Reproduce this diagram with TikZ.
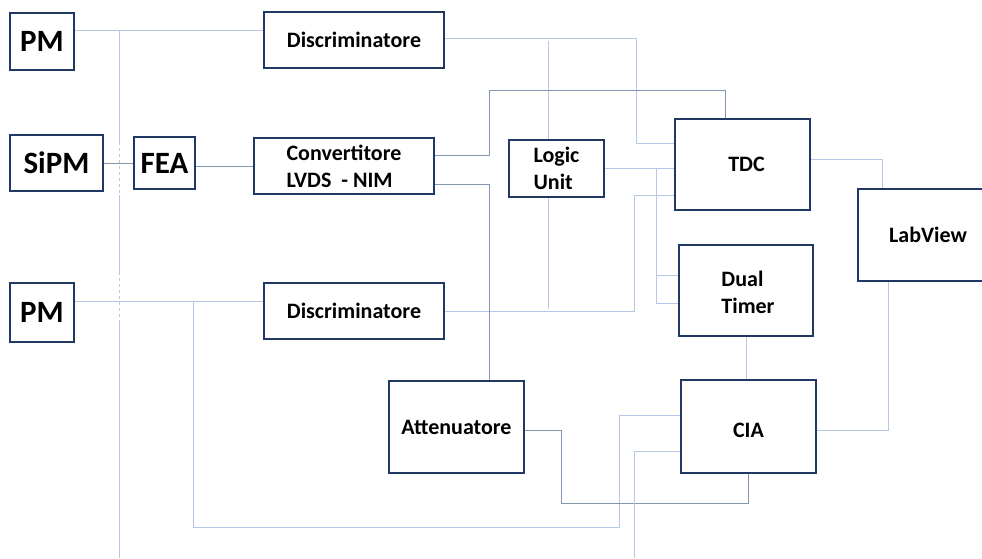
\documentclass[tikz,border=0pt]{standalone}
\usepackage{fontspec}
\setmainfont{Carlito}
\definecolor{boxnavy}{HTML}{203864}
\definecolor{wirelight}{HTML}{B4C7E7}
\definecolor{wiredark}{HTML}{8497B0}
\newcommand{\lowered}[2]{\vphantom{#2}\smash{\raisebox{-#1}{#2}}}
\tikzset{
  blockbox/.style={draw=boxnavy, line width=1.6pt, inner sep=0pt, align=left,
    font=\bfseries\fontsize{22}{27}\selectfont},
  sensorbox/.style={blockbox, line width=2.8pt, font=\bfseries\fontsize{31}{36}\selectfont},
  wire/.style={wirelight, line width=1pt},
  wiredk/.style={wiredark, line width=1pt},
}
\begin{document}
\begin{tikzpicture}[x=1pt, y=-1pt]
    \useasboundingbox (0,0) rectangle (982,558);
    \clip (0,0) rectangle (982,558);
    \node[sensorbox, minimum width=64, minimum height=57] (pma) at (42,41.5) {PM};
    \node[sensorbox, minimum width=93, minimum height=56] (sipm) at (56.5,163) {SiPM};
    \node[sensorbox, minimum width=64, minimum height=59] (pmb) at (42,312.5) {PM};
    \node[blockbox, line width=1.3pt, minimum width=61, minimum height=52,
      font=\bfseries\fontsize{31}{36}\selectfont] (fea) at (164.5,163) {FEA};
    \foreach \n/\y in {disa/40,disb/311}
      \node[blockbox, minimum width=180, minimum height=56] (\n) at (354,\y) {Discriminatore};
    \node[blockbox, minimum width=180, minimum height=56] (conv) at (344,166) {Convertitore\\LVDS~~- NIM};
    \node[blockbox, minimum width=95, minimum height=57] (logic) at (556.5,168.5) {Logic\\Unit};
    \node[blockbox, minimum width=135, minimum height=91] (tdc) at (742.5,164.5) {\hspace*{8pt}TDC};
    \node[blockbox, minimum width=134, minimum height=91] (dual) at (746,290.5)
      {\hspace*{4pt}\lowered{4pt}{\begin{tabular}{@{}l@{}}Dual\\Timer\end{tabular}}};
    \node[blockbox, minimum width=140, minimum height=92] (lab) at (928,235) {LabView};
    \node[blockbox, minimum width=135, minimum height=92] (att) at (456.5,427) {Attenuatore};
    \node[blockbox, minimum width=135, minimum height=93] (cia) at (748.5,426.5) {\lowered{4pt}{CIA}};
    \coordinate (jpa) at (119,30);
    \coordinate (gapa) at (119,142);
    \coordinate (gapb) at (119,195);
    \coordinate (gapc) at (119,272);
    \coordinate (gapd) at (119,320);
    \coordinate (vbot) at (119,558);
    \coordinate (jpb) at (193,301);
    \coordinate (jlu) at (656,169);
    \draw[wire] (pma.east |- jpa) -- (disa.west |- jpa);
    \draw[wire] (jpa) -- (gapa);
    \draw[wire, dashed] (gapa) -- (gapb);
    \draw[wire] (gapb) -- (gapc);
    \draw[wire, dashed] (gapc) -- (gapd);
    \draw[wire] (gapd) -- (vbot);
    \draw[wiredk] (sipm.east) -- (fea.west);
    \draw[wiredk] (fea.east |- conv.west) -- (conv.west);
    \draw[wire] (pmb.east |- jpb) -- (disb.west |- jpb);
    \draw[wire] (jpb) |- (619,527) |- (cia.west |- 0,415);
    \draw[wire] (disa.east |- 0,38) -| (636,143) -- (tdc.west |- 0,143);
    \draw[wire] (548,41) -- (logic.north -| 548,0);
    \draw[wire] (logic.south -| 548,0) -- (548,309);
    \draw[wire] (disb.east) -| (634,195) -- (tdc.west |- 0,195);
    \draw[wiredk] (conv.east |- 0,155) -| (489,90) -| (tdc.north -| 725,0);
    \draw[wiredk] (conv.east |- 0,184) -| (att.north -| 489,0);
    \draw[wire] (logic.east) -- (tdc.west |- logic.east);
    \draw[wire] (jlu) |- (dual.west |- 0,303);
    \draw[wire] (656,275) -- (dual.west |- 0,275);
    \draw[wire] (tdc.east |- 0,159) -| (lab.north -| 882,0);
    \draw[wire] (dual.south) -- (dual.south |- cia.north);
    \draw[wire] (cia.east |- 0,430) -| (lab.south -| 888,0);
    \draw[wiredk] (att.east |- 0,430) -| (561,503) -| (cia.south -| 748,0);
    \draw[wire] (cia.west |- 0,451) -| (634,558);
  \end{tikzpicture}
\end{document}
